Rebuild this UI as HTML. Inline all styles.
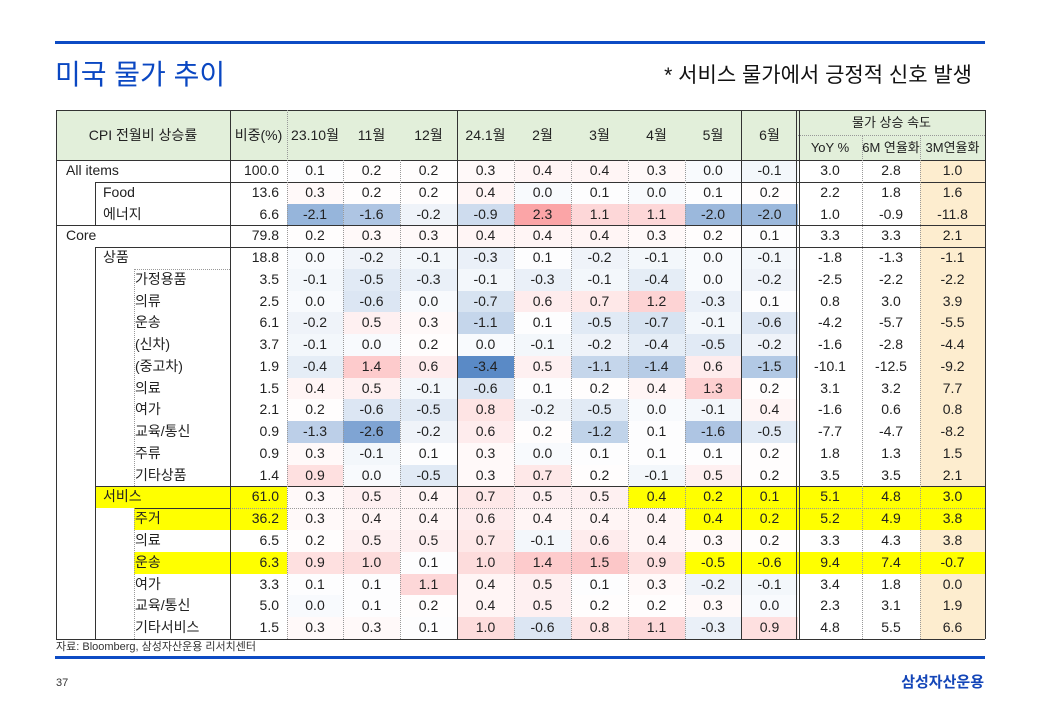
<!DOCTYPE html>
<html><head><meta charset="utf-8">
<style>
*{margin:0;padding:0;box-sizing:border-box}
body{width:1040px;height:720px;background:#fff;position:relative;overflow:hidden;font-family:"Liberation Sans","Noto Sans CJK KR",sans-serif;color:#222}
.a{position:absolute}
.hl{position:absolute;height:0;border-top:1px solid #333}
.hd{position:absolute;height:0;border-top:1px dotted #999}
.vl{position:absolute;width:0;border-left:1px solid #333}
.vd{position:absolute;width:0;border-left:1px dotted #999}
#tb{position:absolute;left:56px;top:160px;width:929px}
.r{display:grid;grid-template-columns:174px 57px 56px 57px 57px 57px 57px 57px 57px 56px 57px 64px 58px 65px;height:21.77px;font-size:14px;line-height:21.77px}
.r span{text-align:center;white-space:nowrap;height:21.77px}
.r span.w{text-align:right;padding-right:8px}
.r span.l{text-align:left}
.l0{padding-left:10px}
.l1 i{margin-left:39px;padding-left:8px}
.l2 i{margin-left:78px;padding-left:1px}
.l i{font-style:normal;display:block;height:21.77px;line-height:21.77px}
.o{background:#fdedcf}
.y,.l .y{background:#ffff00!important}
.hc{position:absolute;top:110px;height:50px;line-height:50px;text-align:center;font-size:14px}
.hbg{position:absolute;left:56px;top:110px;width:929px;height:50px;background:#e2efda}
</style></head><body>
<div class="a" style="left:55px;top:41px;width:930px;height:3px;background:#0d4bc4"></div>
<div class="a" style="left:55px;top:57px;font-size:28px;line-height:36px;color:#0a47c2">미국 물가 추이</div>
<div class="a" style="left:600px;top:62px;width:372px;text-align:right;font-size:21px;line-height:28px;color:#111">* 서비스 물가에서 긍정적 신호 발생</div>

<div class="hbg"></div>
<div class="hc" style="left:56px;width:174px">CPI 전월비 상승률</div>
<div class="hc" style="left:230px;width:57px">비중(%)</div>
<div class="hc" style="left:287px;width:56px">23.10월</div>
<div class="hc" style="left:343px;width:57px">11월</div>
<div class="hc" style="left:400px;width:57px">12월</div>
<div class="hc" style="left:457px;width:57px">24.1월</div>
<div class="hc" style="left:514px;width:57px">2월</div>
<div class="hc" style="left:571px;width:57px">3월</div>
<div class="hc" style="left:628px;width:57px">4월</div>
<div class="hc" style="left:685px;width:56px">5월</div>
<div class="hc" style="left:741px;width:57px">6월</div>
<div class="hc" style="left:798px;width:187px;height:25px;line-height:25px;font-size:13px">물가 상승 속도</div>
<div class="hc" style="left:798px;top:135px;width:64px;height:25px;line-height:25px;font-size:13px">YoY %</div>
<div class="hc" style="left:862px;top:135px;width:58px;height:25px;line-height:25px;font-size:13px">6M 연율화</div>
<div class="hc" style="left:920px;top:135px;width:65px;height:25px;line-height:25px;font-size:13px">3M연율화</div>

<div id="tb">
<div class="r"><span class="l l0">All items</span><span class="w">100.0</span><span>0.1</span><span>0.2</span><span>0.2</span><span>0.3</span><span>0.4</span><span>0.4</span><span>0.3</span><span>0.0</span><span>-0.1</span><span>3.0</span><span>2.8</span><span class="o">1.0</span></div>
<div class="r"><span class="l l1"><i>Food</i></span><span class="w">13.6</span><span>0.3</span><span>0.2</span><span>0.2</span><span>0.4</span><span>0.0</span><span>0.1</span><span>0.0</span><span>0.1</span><span>0.2</span><span>2.2</span><span>1.8</span><span class="o">1.6</span></div>
<div class="r"><span class="l l1"><i>에너지</i></span><span class="w">6.6</span><span>-2.1</span><span>-1.6</span><span>-0.2</span><span>-0.9</span><span>2.3</span><span>1.1</span><span>1.1</span><span>-2.0</span><span>-2.0</span><span>1.0</span><span>-0.9</span><span class="o">-11.8</span></div>
<div class="r"><span class="l l0">Core</span><span class="w">79.8</span><span>0.2</span><span>0.3</span><span>0.3</span><span>0.4</span><span>0.4</span><span>0.4</span><span>0.3</span><span>0.2</span><span>0.1</span><span>3.3</span><span>3.3</span><span class="o">2.1</span></div>
<div class="r"><span class="l l1"><i>상품</i></span><span class="w">18.8</span><span>0.0</span><span>-0.2</span><span>-0.1</span><span>-0.3</span><span>0.1</span><span>-0.2</span><span>-0.1</span><span>0.0</span><span>-0.1</span><span>-1.8</span><span>-1.3</span><span class="o">-1.1</span></div>
<div class="r"><span class="l l2"><i>가정용품</i></span><span class="w">3.5</span><span>-0.1</span><span>-0.5</span><span>-0.3</span><span>-0.1</span><span>-0.3</span><span>-0.1</span><span>-0.4</span><span>0.0</span><span>-0.2</span><span>-2.5</span><span>-2.2</span><span class="o">-2.2</span></div>
<div class="r"><span class="l l2"><i>의류</i></span><span class="w">2.5</span><span>0.0</span><span>-0.6</span><span>0.0</span><span>-0.7</span><span>0.6</span><span>0.7</span><span>1.2</span><span>-0.3</span><span>0.1</span><span>0.8</span><span>3.0</span><span class="o">3.9</span></div>
<div class="r"><span class="l l2"><i>운송</i></span><span class="w">6.1</span><span>-0.2</span><span>0.5</span><span>0.3</span><span>-1.1</span><span>0.1</span><span>-0.5</span><span>-0.7</span><span>-0.1</span><span>-0.6</span><span>-4.2</span><span>-5.7</span><span class="o">-5.5</span></div>
<div class="r"><span class="l l2"><i>(신차)</i></span><span class="w">3.7</span><span>-0.1</span><span>0.0</span><span>0.2</span><span>0.0</span><span>-0.1</span><span>-0.2</span><span>-0.4</span><span>-0.5</span><span>-0.2</span><span>-1.6</span><span>-2.8</span><span class="o">-4.4</span></div>
<div class="r"><span class="l l2"><i>(중고차)</i></span><span class="w">1.9</span><span>-0.4</span><span>1.4</span><span>0.6</span><span>-3.4</span><span>0.5</span><span>-1.1</span><span>-1.4</span><span>0.6</span><span>-1.5</span><span>-10.1</span><span>-12.5</span><span class="o">-9.2</span></div>
<div class="r"><span class="l l2"><i>의료</i></span><span class="w">1.5</span><span>0.4</span><span>0.5</span><span>-0.1</span><span>-0.6</span><span>0.1</span><span>0.2</span><span>0.4</span><span>1.3</span><span>0.2</span><span>3.1</span><span>3.2</span><span class="o">7.7</span></div>
<div class="r"><span class="l l2"><i>여가</i></span><span class="w">2.1</span><span>0.2</span><span>-0.6</span><span>-0.5</span><span>0.8</span><span>-0.2</span><span>-0.5</span><span>0.0</span><span>-0.1</span><span>0.4</span><span>-1.6</span><span>0.6</span><span class="o">0.8</span></div>
<div class="r"><span class="l l2"><i>교육/통신</i></span><span class="w">0.9</span><span>-1.3</span><span>-2.6</span><span>-0.2</span><span>0.6</span><span>0.2</span><span>-1.2</span><span>0.1</span><span>-1.6</span><span>-0.5</span><span>-7.7</span><span>-4.7</span><span class="o">-8.2</span></div>
<div class="r"><span class="l l2"><i>주류</i></span><span class="w">0.9</span><span>0.3</span><span>-0.1</span><span>0.1</span><span>0.3</span><span>0.0</span><span>0.1</span><span>0.1</span><span>0.1</span><span>0.2</span><span>1.8</span><span>1.3</span><span class="o">1.5</span></div>
<div class="r"><span class="l l2"><i>기타상품</i></span><span class="w">1.4</span><span>0.9</span><span>0.0</span><span>-0.5</span><span>0.3</span><span>0.7</span><span>0.2</span><span>-0.1</span><span>0.5</span><span>0.2</span><span>3.5</span><span>3.5</span><span class="o">2.1</span></div>
<div class="r"><span class="l l1"><i class="y">서비스</i></span><span class="w y">61.0</span><span>0.3</span><span>0.5</span><span>0.4</span><span>0.7</span><span>0.5</span><span>0.5</span><span class="y">0.4</span><span class="y">0.2</span><span class="y">0.1</span><span class="y">5.1</span><span class="y">4.8</span><span class="y">3.0</span></div>
<div class="r"><span class="l l2"><i class="y">주거</i></span><span class="w y">36.2</span><span>0.3</span><span>0.4</span><span>0.4</span><span>0.6</span><span>0.4</span><span>0.4</span><span>0.4</span><span class="y">0.4</span><span class="y">0.2</span><span class="y">5.2</span><span class="y">4.9</span><span class="y">3.8</span></div>
<div class="r"><span class="l l2"><i>의료</i></span><span class="w">6.5</span><span>0.2</span><span>0.5</span><span>0.5</span><span>0.7</span><span>-0.1</span><span>0.6</span><span>0.4</span><span>0.3</span><span>0.2</span><span>3.3</span><span>4.3</span><span class="o">3.8</span></div>
<div class="r"><span class="l l2"><i class="y">운송</i></span><span class="w y">6.3</span><span>0.9</span><span>1.0</span><span>0.1</span><span>1.0</span><span>1.4</span><span>1.5</span><span>0.9</span><span class="y">-0.5</span><span class="y">-0.6</span><span class="y">9.4</span><span class="y">7.4</span><span class="y">-0.7</span></div>
<div class="r"><span class="l l2"><i>여가</i></span><span class="w">3.3</span><span>0.1</span><span>0.1</span><span>1.1</span><span>0.4</span><span>0.5</span><span>0.1</span><span>0.3</span><span>-0.2</span><span>-0.1</span><span>3.4</span><span>1.8</span><span class="o">0.0</span></div>
<div class="r"><span class="l l2"><i>교육/통신</i></span><span class="w">5.0</span><span>0.0</span><span>0.1</span><span>0.2</span><span>0.4</span><span>0.5</span><span>0.2</span><span>0.2</span><span>0.3</span><span>0.0</span><span>2.3</span><span>3.1</span><span class="o">1.9</span></div>
<div class="r"><span class="l l2"><i>기타서비스</i></span><span class="w">1.5</span><span>0.3</span><span>0.3</span><span>0.1</span><span>1.0</span><span>-0.6</span><span>0.8</span><span>1.1</span><span>-0.3</span><span>0.9</span><span>4.8</span><span>5.5</span><span class="o">6.6</span></div>
</div>

<div class="hl" style="left:56px;top:110px;width:929px"></div>
<div class="hl" style="left:56px;top:160px;width:929px"></div>
<div class="hl" style="left:95px;top:182px;width:890px"></div>
<div class="hl" style="left:56px;top:225px;width:929px"></div>
<div class="hl" style="left:95px;top:247px;width:890px"></div>
<div class="hd" style="left:134px;top:269px;width:96px"></div>
<div class="hl" style="left:95px;top:486px;width:890px"></div>
<div class="hl" style="left:134px;top:508px;width:96px"></div>
<div class="hd" style="left:230px;top:508px;width:755px"></div>
<div class="hl" style="left:56px;top:639px;width:929px"></div>
<div class="hd" style="left:798px;top:135px;width:187px"></div>
<div class="vl" style="left:56px;top:110px;height:529px"></div>
<div class="vl" style="left:95px;top:182px;height:43px"></div>
<div class="vl" style="left:95px;top:247px;height:392px"></div>
<div class="vd" style="left:134px;top:269px;height:217px"></div>
<div class="vd" style="left:134px;top:508px;height:131px"></div>
<div class="vl" style="left:230px;top:110px;height:529px"></div>
<div class="vd" style="left:287px;top:110px;height:529px"></div>
<div class="vd" style="left:343px;top:160px;height:479px"></div>
<div class="vd" style="left:400px;top:160px;height:479px"></div>
<div class="vl" style="left:457px;top:110px;height:529px"></div>
<div class="vd" style="left:514px;top:160px;height:479px"></div>
<div class="vd" style="left:571px;top:160px;height:479px"></div>
<div class="vd" style="left:628px;top:160px;height:479px"></div>
<div class="vd" style="left:685px;top:160px;height:479px"></div>
<div class="vl" style="left:741px;top:110px;height:529px"></div>
<div class="vl" style="left:796px;top:110px;height:529px"></div>
<div class="vl" style="left:799px;top:110px;height:529px"></div>
<div class="vd" style="left:862px;top:135px;height:504px"></div>
<div class="vd" style="left:920px;top:135px;height:504px"></div>
<div class="vl" style="left:985px;top:110px;height:529px"></div>

<div class="a" style="left:56px;top:640px;font-size:11px;line-height:14px;color:#333">자료: Bloomberg, 삼성자산운용 리서치센터</div>
<div class="a" style="left:55px;top:656px;width:930px;height:3px;background:#0d4bc4"></div>
<div class="a" style="left:56px;top:676px;font-size:11px;line-height:14px;color:#333">37</div>
<div class="a" style="left:850px;top:673px;width:134px;text-align:right;font-size:15px;font-weight:bold;line-height:20px;color:#1446b8">삼성자산운용</div>

<script>
(function(){
 var rows=document.querySelectorAll('#tb .r');
 function mix(a,t){return 'rgb('+Math.round(255+(a[0]-255)*t)+','+Math.round(255+(a[1]-255)*t)+','+Math.round(255+(a[2]-255)*t)+')';}
 rows.forEach(function(r){
  var c=r.children;
  for(var i=2;i<=10;i++){
   if(c[i].classList.contains('y'))continue;
   var v=parseFloat(c[i].textContent),mid=0.15,bg;
   if(v<mid){bg=mix([90,138,198],Math.min(1,(mid-v)/3.55));}
   else{bg=mix([248,105,107],Math.min(1,(v-mid)/3.6));}
   c[i].style.background=bg;
  }
 });
})();
</script>
</body></html>
